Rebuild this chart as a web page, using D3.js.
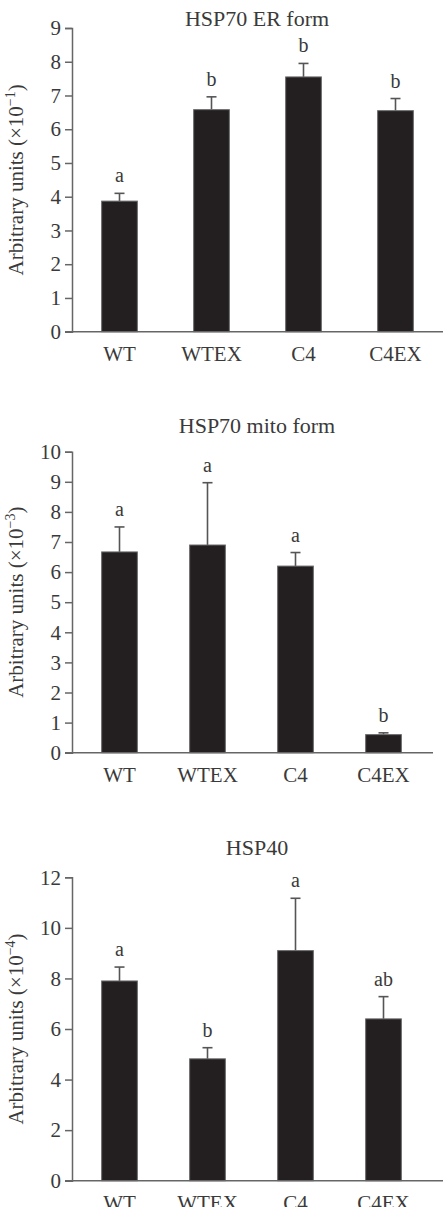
<!DOCTYPE html>
<html>
<head>
<meta charset="utf-8">
<script src="https://cdn.jsdelivr.net/npm/d3@7"></script>
<style>
  body { margin: 0; background: #fff; }
  text { font-family: "Liberation Serif", "Times New Roman", serif; fill: #3a3a3a; }
</style>
</head>
<body>
<div id="chart"></div>
<script>
// groups on the x axis
const groups = ["WT", "WTEX", "C4", "C4EX"];

// HSP70 ER form (x10^-1)
const erMeans = [3.87, 6.58, 7.55, 6.55];
const erErrors = [0.23, 0.38, 0.40, 0.36];
const erLetters = ["a", "b", "b", "b"];
const erTicks = [0, 1, 2, 3, 4, 5, 6, 7, 8, 9];

// HSP70 mito form (x10^-3)
const mitoMeans = [6.67, 6.9, 6.2, 0.6];
const mitoErrors = [0.83, 2.07, 0.45, 0.06];
const mitoLetters = ["a", "a", "a", "b"];
const mitoTicks = [0, 1, 2, 3, 4, 5, 6, 7, 8, 9, 10];

// HSP40 (x10^-4)
const hsp40Means = [7.9, 4.82, 9.1, 6.4];
const hsp40Errors = [0.55, 0.44, 2.07, 0.88];
const hsp40Letters = ["a", "b", "a", "ab"];
const hsp40Ticks = [0, 2, 4, 6, 8, 10, 12];

const panels = [
    { title: "HSP70 ER form", exp: "\u22121", means: erMeans, errors: erErrors, letters: erLetters, ticks: erTicks,
      yTop: 28, yBottom: 331.7, xRange: [73.5, 441.5], axisEnd: 443, titleY: 26 },
    { title: "HSP70 mito form", exp: "\u22123", means: mitoMeans, errors: mitoErrors, letters: mitoLetters, ticks: mitoTicks,
      yTop: 451.7, yBottom: 752.7, xRange: [75.5, 427.5], axisEnd: 433, titleY: 433 },
    { title: "HSP40", exp: "\u22124", means: hsp40Means, errors: hsp40Errors, letters: hsp40Letters, ticks: hsp40Ticks,
      yTop: 877.3, yBottom: 1180.7, xRange: [75.5, 427.5], axisEnd: 443, titleY: 855 }
];

const axisX = 72;
const axisColor = "#666";

const svg = d3.select("#chart")
    .append("svg")
    .attr("width", 443)
    .attr("height", 1207);

panels.forEach(p => {
    const g = svg.append("g");

    const step = (p.xRange[1] - p.xRange[0]) / groups.length;
    const pad = 1 - 35.7 / step;

    const x = d3.scaleBand()
        .domain(groups)
        .range(p.xRange)
        .paddingInner(pad)
        .paddingOuter(pad / 2);

    const y = d3.scaleLinear()
        .domain([0, d3.max(p.ticks)])
        .range([p.yBottom, p.yTop]);

    const data = groups.map((k, i) => ({ k: k, m: p.means[i], e: p.errors[i], l: p.letters[i] }));

    // y axis
    const ya = g.append("g")
        .attr("transform", `translate(${axisX},0)`)
        .call(d3.axisLeft(y).tickValues(p.ticks).tickSize(7).tickSizeOuter(7).tickPadding(4));
    ya.select(".domain").attr("stroke", axisColor).attr("stroke-width", 1.5);
    ya.selectAll(".tick line").attr("stroke", axisColor).attr("stroke-width", 1.5);
    ya.selectAll(".tick text")
        .style("font-family", "'Liberation Serif', serif")
        .style("font-size", "21px")
        .attr("fill", "#3a3a3a");

    // x axis (labels only, baseline drawn below)
    const xa = g.append("g")
        .attr("transform", `translate(0,${p.yBottom})`)
        .call(d3.axisBottom(x).tickSize(0).tickPadding(14));
    xa.select(".domain").remove();
    xa.selectAll(".tick text")
        .style("font-family", "'Liberation Serif', serif")
        .style("font-size", "21px")
        .attr("fill", "#3a3a3a");

    // error bars (upper only)
    g.selectAll(".err")
        .data(data)
        .enter()
        .append("line")
        .attr("x1", d => x(d.k) + x.bandwidth() / 2)
        .attr("x2", d => x(d.k) + x.bandwidth() / 2)
        .attr("y1", d => y(d.m))
        .attr("y2", d => y(d.m + d.e))
        .attr("stroke", "#555")
        .attr("stroke-width", 1.6);

    g.selectAll(".cap")
        .data(data)
        .enter()
        .append("line")
        .attr("x1", d => x(d.k) + x.bandwidth() / 2 - 5)
        .attr("x2", d => x(d.k) + x.bandwidth() / 2 + 5)
        .attr("y1", d => y(d.m + d.e))
        .attr("y2", d => y(d.m + d.e))
        .attr("stroke", "#555")
        .attr("stroke-width", 1.6);

    // bars
    g.selectAll(".bar")
        .data(data)
        .enter()
        .append("rect")
        .attr("x", d => x(d.k))
        .attr("y", d => y(d.m))
        .attr("width", x.bandwidth())
        .attr("height", d => y(0) - y(d.m))
        .attr("fill", "#231f20")
        .attr("stroke", "#6a6a6a")
        .attr("stroke-width", 1);

    // baseline
    g.append("line")
        .attr("x1", axisX - 7)
        .attr("x2", p.axisEnd)
        .attr("y1", p.yBottom)
        .attr("y2", p.yBottom)
        .attr("stroke", axisColor)
        .attr("stroke-width", 1.5);

    // significance letters
    g.selectAll(".letter")
        .data(data)
        .enter()
        .append("text")
        .attr("x", d => x(d.k) + x.bandwidth() / 2)
        .attr("y", d => y(d.m + d.e) - 11)
        .attr("text-anchor", "middle")
        .style("font-size", "20px")
        .text(d => d.l);

    // title
    g.append("text")
        .attr("x", 257)
        .attr("y", p.titleY)
        .attr("text-anchor", "middle")
        .style("font-size", "22px")
        .text(p.title);

    // y label
    const yl = g.append("text")
        .attr("transform", `translate(23,${(p.yTop + p.yBottom) / 2}) rotate(-90)`)
        .attr("text-anchor", "middle")
        .style("font-size", "21px");
    yl.append("tspan").text("Arbitrary units (\u00d710");
    yl.append("tspan").attr("dy", -8).style("font-size", "14px").text(p.exp);
    yl.append("tspan").attr("dy", 8).text(")");
});
</script>
</body>
</html>
